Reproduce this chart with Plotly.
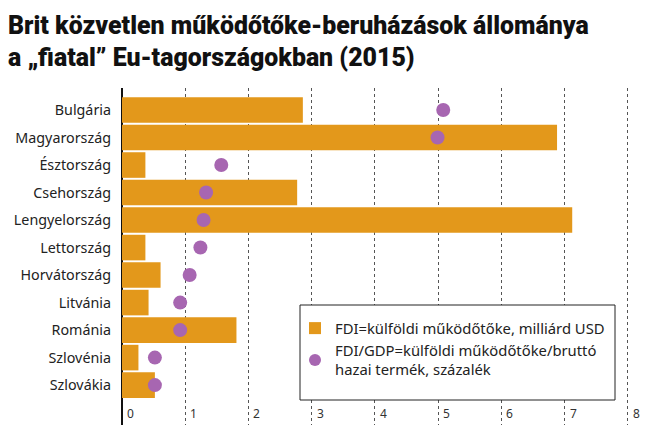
import plotly.graph_objects as go

countries = ["Bulgária", "Magyarország", "Észtország", "Csehország", "Lengyelország",
             "Lettország", "Horvátország", "Litvánia", "Románia", "Szlovénia", "Szlovákia"]
fdi_busd = [2.86, 6.88, 0.37, 2.77, 7.12, 0.37, 0.61, 0.42, 1.81, 0.26, 0.52]
fdi_gdp_pct = [5.08, 4.99, 1.57, 1.33, 1.29, 1.24, 1.07, 0.92, 0.92, 0.52, 0.52]
x_ticks = [0, 1, 2, 3, 4, 5, 6, 7, 8]

bar_name = "FDI=külföldi működőtőke, milliárd USD"
dot_name = "FDI/GDP=külföldi működőtőke/bruttó<br>hazai termék, százalék"
title_text = "Brit közvetlen működőtőke-beruházások állománya<br>a „fiatal” Eu-tagországokban (2015)"

W, H = 650, 425
ML, MT = 122, 88
PW, PH = W - ML, H - MT


def px_x(p):
    return (p - ML) / PW


def px_y(p):
    return (H - p) / PH


fig = go.Figure()
fig.add_trace(go.Bar(
    y=countries, x=fdi_busd, orientation="h", name=bar_name,
    marker=dict(color="#E3981B", line=dict(width=0)),
))
fig.add_trace(go.Scatter(
    y=countries, x=fdi_gdp_pct, mode="markers", name=dot_name,
    marker=dict(color="#A766B1", size=14, line=dict(width=0)),
))

for t in x_ticks:
    fig.add_annotation(x=t, y=0.0, xref="x", yref="paper", text=str(t),
                       showarrow=False, xanchor="left", yanchor="bottom",
                       xshift=3, yshift=1,
                       font=dict(size=12, color="#333", family="Noto Sans"))

fig.add_annotation(x=px_x(6), y=px_y(9), xref="paper", yref="paper",
                   text=title_text, showarrow=False,
                   xanchor="left", yanchor="top", align="left",
                   font=dict(family="Roboto", size=24.9, color="#111", weight=900))

# legend frame
fig.add_shape(type="rect", xref="paper", yref="paper",
              x0=px_x(300), x1=px_x(615), y0=px_y(400), y1=px_y(305),
              fillcolor="white", line=dict(color="#222", width=1), layer="above")

fig.update_layout(
    width=W, height=H,
    margin=dict(l=ML, r=0, t=MT, b=0),
    paper_bgcolor="white", plot_bgcolor="white",
    bargap=0.07,
    showlegend=True,
    legend=dict(x=px_x(295), y=px_y(312), xanchor="left", yanchor="top",
                bgcolor="rgba(0,0,0,0)", borderwidth=0,
                font=dict(family="Noto Sans", size=14.8, color="#222"),
                traceorder="normal", itemsizing="constant", tracegroupgap=2),
    xaxis=dict(range=[0, 8.35], showgrid=True, griddash="dot", gridcolor="#555",
               gridwidth=1, tickvals=x_ticks, showticklabels=False, ticks="",
               zeroline=True, zerolinecolor="#111", zerolinewidth=1.5, fixedrange=True),
    yaxis=dict(autorange=False, range=[11.45, -0.8], categoryorder="array",
               categoryarray=countries, showgrid=False, ticks="",
               tickfont=dict(family="Noto Sans", size=14.3, color="#222"),
               ticklabelstandoff=10),
    font=dict(family="Noto Sans"),
)

fig.write_html("out.html")
